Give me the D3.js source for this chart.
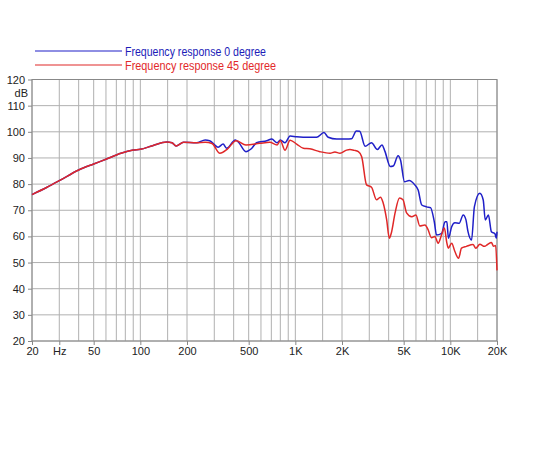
<!DOCTYPE html>
<html>
<head>
<meta charset="utf-8">
<script src="https://cdn.jsdelivr.net/npm/d3@7"></script>
<style>
  body { margin: 0; background: #fff; }
  svg text { font-family: "Liberation Sans", Arial, sans-serif; }
</style>
</head>
<body>
<div id="chart"></div>
<script>
// legend
var seriesNames = ['Frequency response 0 degree', 'Frequency response 45 degree'];
var seriesColors = ['#1f1fc8', '#e02828'];
var legendTextColors = ['#1c1cb8', '#e22a2a'];

// axis ticks
var gridFreqs = [20, 30, 40, 50, 60, 70, 80, 90, 100, 150, 200, 300, 400, 500, 600, 700, 800, 900,
  1000, 1500, 2000, 3000, 4000, 5000, 6000, 7000, 8000, 9000, 10000, 15000, 20000];
var xTickFreqs = [20, 30, 50, 100, 200, 500, 1000, 2000, 5000, 10000, 20000];
var xTickLabels = ['20', 'Hz', '50', '100', '200', '500', '1K', '2K', '5K', '10K', '20K'];
var yTicks = [20, 30, 40, 50, 60, 70, 80, 90, 100, 110, 120];

// 0 degree (blue)
var freq0 = [20, 25, 30, 40, 50, 60, 75, 90, 100, 120, 148, 160, 170, 190, 230, 262, 280, 318, 342, 360,
  410, 430, 480, 520, 562, 654, 705, 763, 800, 858, 925, 1020, 1240, 1370, 1530, 1630, 1850, 2140,
  2300, 2476, 2600, 2820, 3100, 3380, 3620, 3780, 4100, 4280, 4600, 4770, 5060, 5420, 5900, 6200,
  6540, 7040, 7450, 7880, 8150, 8800, 9240, 9500, 9720, 10200, 10700, 11400, 12100, 12600, 13000,
  13700, 14300, 15500, 16300, 16800, 17600, 18400, 19400, 19800, 20000];
var db0 = [76.0, 78.8, 81.3, 85.4, 87.7, 89.5, 91.8, 93.0, 93.3, 94.7, 96.1, 95.8, 94.6, 96.0, 95.8, 96.9, 96.6, 94.1, 95.3, 93.7,
  96.9, 96.0, 92.4, 93.5, 95.8, 96.6, 97.2, 95.8, 96.9, 95.8, 98.4, 98.1, 97.9, 97.9, 99.7, 97.9, 97.2, 97.2,
  97.3, 100.3, 100.2, 94.5, 95.8, 93.2, 95.0, 92.6, 86.7, 86.9, 90.8, 89.2, 80.9, 81.4, 79.7, 77.7,
  72.0, 71.3, 71.0, 65.6, 60.5, 61.2, 65.6, 65.6, 59.3, 63.7, 65.2, 65.0, 68.2, 66.4, 61.8,
  58.6, 71.4, 76.5, 73.9, 66.3, 68.2, 61.8, 61.0, 59.3, 61.8];

// 45 degree (red)
var freq45 = [20, 25, 30, 40, 50, 60, 75, 90, 100, 120, 148, 160, 170, 190, 230, 262, 290, 326, 363,
  415, 480, 590, 684, 763, 800, 858, 925, 1020, 1126, 1240, 1440, 1674, 1800, 1940, 2140, 2250,
  2400, 2550, 2680, 2880, 3100, 3340, 3540, 3680, 3880, 4040, 4170, 4400, 4700, 4950, 5220, 5640,
  6000, 6350, 6860, 7170, 7550, 7950, 8340, 8800, 9150, 9500, 9700, 10200, 10700, 11300, 11800,
  12700, 14000, 14600, 15500, 16600, 17400, 18400, 19000, 19600, 20000];
var db45 = [76.0, 78.8, 81.3, 85.4, 87.7, 89.5, 91.8, 93.0, 93.3, 94.7, 96.1, 95.8, 94.6, 96.0, 95.8, 96.0, 95.5, 91.8, 93.3,
  96.6, 95.0, 95.6, 96.0, 95.0, 96.6, 93.0, 96.8, 95.3, 93.7, 93.5, 92.4, 91.8, 92.3, 91.8, 93.0, 93.2,
  92.9, 92.4, 90.5, 79.7, 78.8, 74.0, 75.0, 73.0, 66.5, 59.3, 61.5, 69.0, 74.7, 74.0, 69.0, 67.5,
  68.2, 64.0, 64.4, 62.7, 59.5, 60.0, 57.4, 60.8, 63.2, 57.4, 55.5, 57.4, 54.2, 51.6, 55.5,
  56.2, 56.9, 55.5, 57.0, 56.2, 56.9, 57.7, 56.2, 56.5, 47.0];

var width = 550, height = 450;
var svg = d3.select('#chart').append('svg')
  .attr('width', width)
  .attr('height', height);

var x = d3.scaleLog().domain([20, 20000]).range([32, 497]);
var y = d3.scaleLinear().domain([20, 120]).range([341, 79.5]);

// grid
svg.append('g')
  .selectAll('line')
  .data(gridFreqs)
  .enter()
  .append('line')
  .attr('x1', d => x(d)).attr('x2', d => x(d))
  .attr('y1', y(20)).attr('y2', y(120))
  .attr('stroke', '#b0b0b0')
  .attr('stroke-width', 1);

svg.append('g')
  .selectAll('line')
  .data(yTicks)
  .enter()
  .append('line')
  .attr('x1', x(20)).attr('x2', x(20000))
  .attr('y1', d => y(d)).attr('y2', d => y(d))
  .attr('stroke', '#b0b0b0')
  .attr('stroke-width', 1);

// frame
svg.append('rect')
  .attr('x', x(20)).attr('y', y(120))
  .attr('width', x(20000) - x(20)).attr('height', y(20) - y(120))
  .attr('fill', 'none')
  .attr('stroke', '#888')
  .attr('stroke-width', 1);

// Y axis
svg.append('g')
  .attr('transform', 'translate(' + x(20) + ',0)')
  .call(d3.axisLeft(y).tickValues(yTicks).tickSize(4).tickPadding(3))
  .call(g => g.select('.domain').remove())
  .call(g => g.selectAll('line').attr('stroke', '#888'))
  .call(g => g.selectAll('text').attr('font-size', 11).attr('fill', '#222')
    .attr('font-family', '"Liberation Sans", Arial, sans-serif'));

svg.append('text')
  .attr('x', 28).attr('y', y(115) + 4)
  .attr('text-anchor', 'end')
  .attr('font-size', 11).attr('fill', '#222')
  .text('dB');

// X axis
svg.append('g')
  .attr('transform', 'translate(0,' + y(20) + ')')
  .call(d3.axisBottom(x).tickValues(xTickFreqs).tickFormat((d, i) => xTickLabels[i]).tickSize(4).tickPadding(2))
  .call(g => g.select('.domain').remove())
  .call(g => g.selectAll('line').attr('stroke', '#888'))
  .call(g => g.selectAll('text').attr('font-size', 11).attr('fill', '#222')
    .attr('font-family', '"Liberation Sans", Arial, sans-serif'));

// curves
var line = d3.line()
  .x(d => x(d[0]))
  .y(d => y(d[1]))
  .curve(d3.curveMonotoneX);

var curves = [
  freq0.map((f, i) => [f, db0[i]]),
  freq45.map((f, i) => [f, db45[i]])
];

// 0 degree first, 45 degree on top
svg.append('g')
  .selectAll('path')
  .data(curves)
  .enter()
  .append('path')
  .attr('d', d => line(d))
  .attr('fill', 'none')
  .attr('stroke', (d, i) => seriesColors[i])
  .attr('stroke-width', 1.5)
  .attr('stroke-linejoin', 'round');

// legend (reference font is a narrow sans, so squeeze the text)
var legend = svg.append('g');
legend.selectAll('line')
  .data(seriesNames)
  .enter()
  .append('line')
  .attr('x1', 35).attr('x2', 122)
  .attr('y1', (d, i) => 51 + 14 * i).attr('y2', (d, i) => 51 + 14 * i)
  .attr('stroke', (d, i) => seriesColors[i])
  .attr('stroke-width', 1.2);

legend.selectAll('text')
  .data(seriesNames)
  .enter()
  .append('text')
  .attr('x', 125)
  .attr('y', (d, i) => 55.5 + 14 * i)
  .attr('font-size', 12.5)
  .attr('textLength', (d, i) => i == 0 ? 141 : 151)
  .attr('lengthAdjust', 'spacingAndGlyphs')
  .attr('fill', (d, i) => legendTextColors[i])
  .text(d => d);
</script>
</body>
</html>
